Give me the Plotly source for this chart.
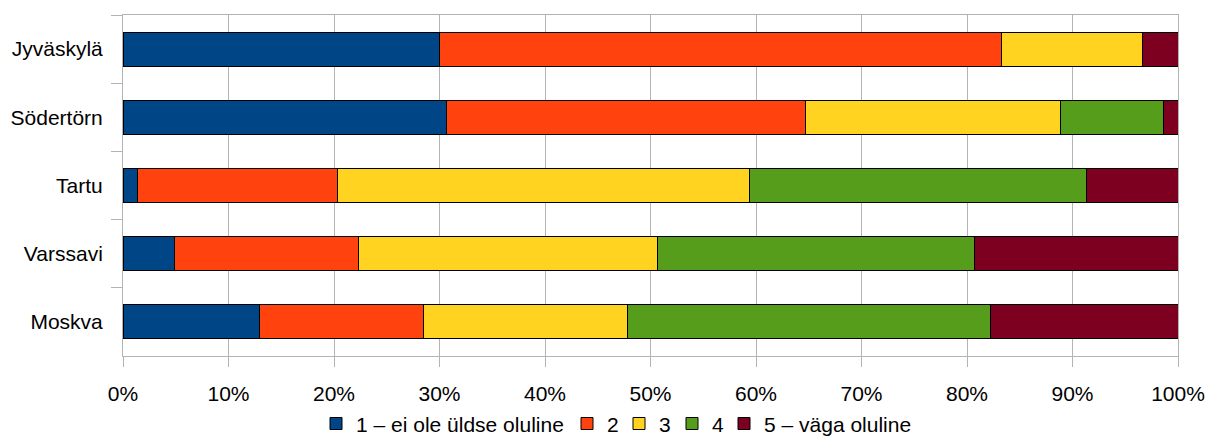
import plotly.graph_objects as go

categories = ["Jyväskylä", "Södertörn", "Tartu", "Varssavi", "Moskva"]
series_names = ["1 – ei ole üldse oluline", "2", "3", "4", "5 – väga oluline"]
s1 = [30.0, 30.7, 1.4, 4.9, 12.9]
s2 = [53.3, 34.0, 18.9, 17.4, 15.6]
s3 = [13.3, 24.2, 39.1, 28.4, 19.3]
s4 = [0.0, 9.7, 31.9, 30.0, 34.4]
s5 = [3.4, 1.4, 8.7, 19.3, 17.8]
colors = ["#004586", "#ff420e", "#ffd320", "#579d1c", "#7e0021"]
x_ticks = [0, 10, 20, 30, 40, 50, 60, 70, 80, 90, 100]
x_tick_labels = [f"{v}%" for v in x_ticks]

# legend entry left edges, in page pixels (reference layout)
legend_px = [330, 581, 633, 686, 738]
legend_ids = ["legend", "legend2", "legend3", "legend4", "legend5"]

plot_left, plot_w = 123, 1055
font = "Liberation Sans, Arial, sans-serif"

fig = go.Figure()
for name, vals, col, lid in zip(series_names, [s1, s2, s3, s4, s5], colors, legend_ids):
    fig.add_trace(go.Bar(
        y=categories, x=vals, name=name, orientation="h", legend=lid,
        marker=dict(color=col, line=dict(color="#000000", width=1)),
    ))

legend_layout = {}
for lid, px in zip(legend_ids, legend_px):
    legend_layout[lid] = dict(
        orientation="h", x=(px - 14 - plot_left) / plot_w, xanchor="left",
        y=-0.199, yanchor="middle", font=dict(size=21, family=font),
        itemwidth=30, bgcolor="rgba(0,0,0,0)",
    )

fig.update_layout(
    width=1205, height=429,
    barmode="stack", bargap=0.5,
    paper_bgcolor="white", plot_bgcolor="white",
    margin=dict(l=115, r=35, t=7, b=81, autoexpand=False),
    font=dict(family=font, size=21, color="#000000"),
    showlegend=True,
    xaxis=dict(range=[0, 100], tickvals=x_ticks, ticktext=x_tick_labels,
               showgrid=True, gridcolor="#b3b3b3", gridwidth=1,
               showline=True, linecolor="#b3b3b3", linewidth=1, mirror=True,
               ticks="outside", ticklen=10, tickcolor="#b3b3b3",
               ticklabelstandoff=9,
               zeroline=False, fixedrange=True),
    yaxis=dict(categoryorder="array", categoryarray=categories, autorange="reversed",
               showgrid=False, showline=True, linecolor="#b3b3b3", linewidth=1, mirror=True,
               ticks="outside", ticklen=11, tickcolor="#b3b3b3", tickson="boundaries",
               ticklabelstandoff=15),
    **legend_layout,
)

fig.write_html("out.html")
